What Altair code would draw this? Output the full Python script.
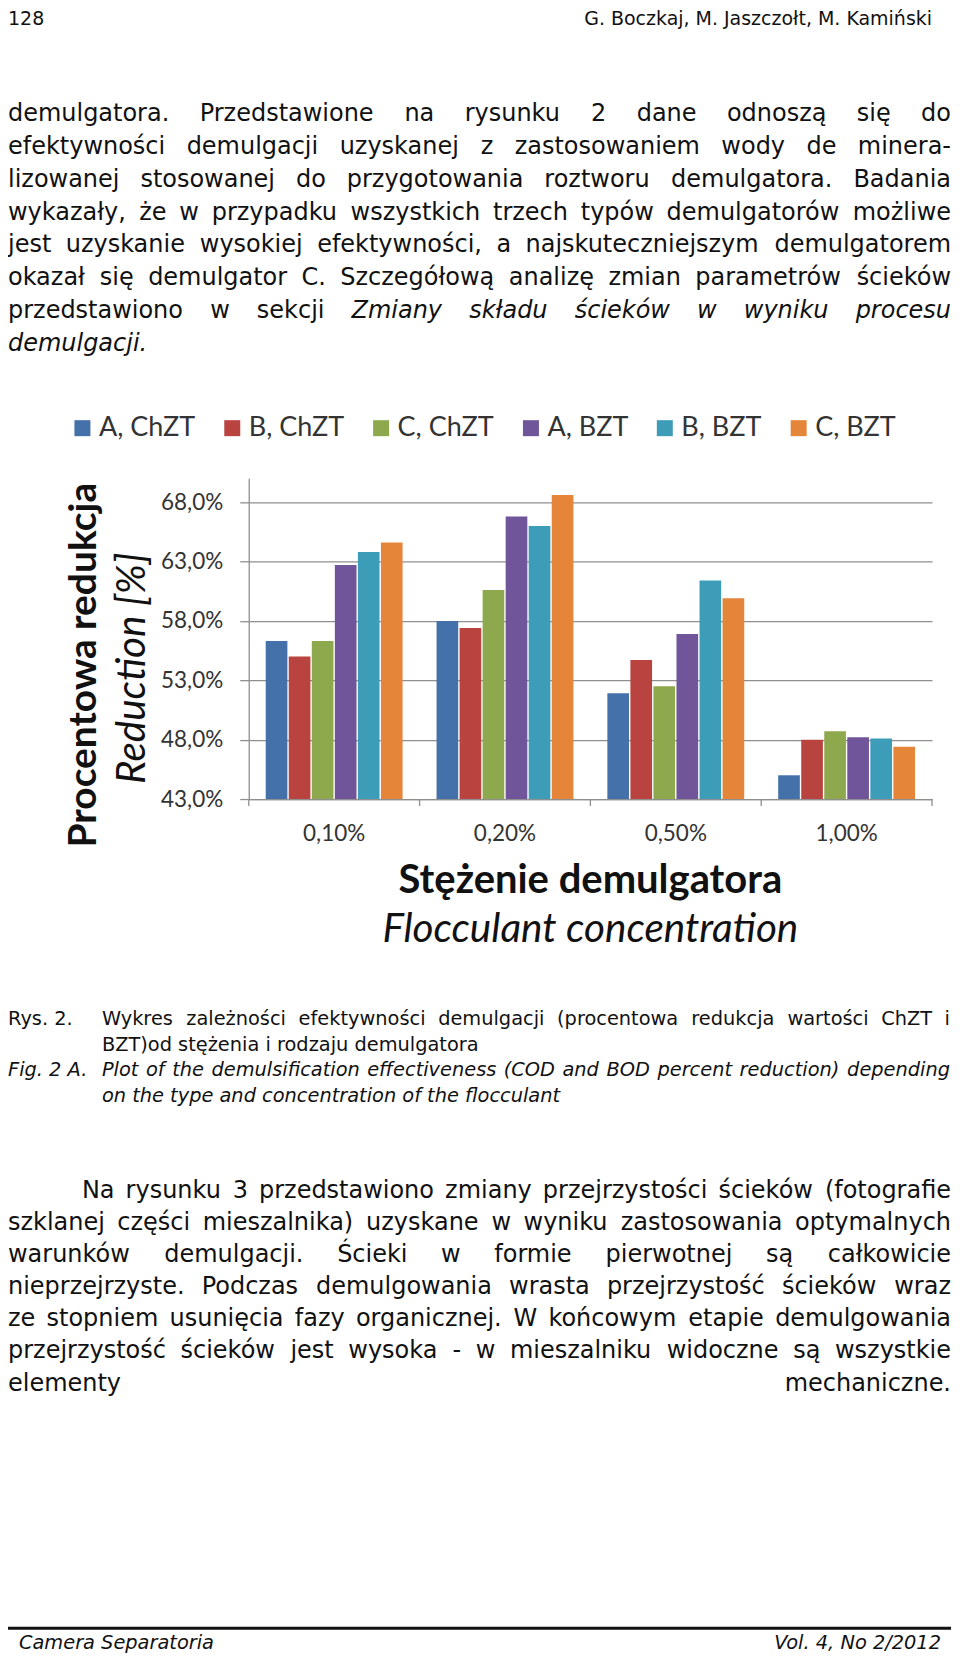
import altair as alt
import pandas as pd

# ---------------- chart data ----------------
concentrations = ["0,10%", "0,20%", "0,50%", "1,00%"]
series = ["A, ChZT", "B, ChZT", "C, ChZT", "A, BZT", "B, BZT", "C, BZT"]
colors = ["#4471AA", "#B8433F", "#8EA94D", "#71559A", "#3D9DB9", "#E5853A"]
val_A_ChZT = [56.3, 58.0, 51.9, 45.0]
val_B_ChZT = [55.0, 57.4, 54.7, 48.0]
val_C_ChZT = [56.3, 60.6, 52.5, 48.7]
val_A_BZT = [62.7, 66.8, 56.9, 48.2]
val_B_BZT = [63.8, 66.0, 61.4, 48.1]
val_C_BZT = [64.6, 68.6, 59.9, 47.4]
y_ticks = [43, 48, 53, 58, 63, 68]
y_domain = [43, 70]

y_title_pl = "Procentowa redukcja"
y_title_en = "Reduction [%]"
x_title_pl = "Stężenie demulgatora"
x_title_en = "Flocculant concentration"

# ---------------- page text ----------------
header_left = "128"
header_right = "G. Boczkaj, M. Jaszczołt, M. Kamiński"
para1 = [
    "demulgatora. Przedstawione na rysunku 2 dane odnoszą się do",
    "efektywności demulgacji uzyskanej z zastosowaniem wody de minera-",
    "lizowanej stosowanej do przygotowania roztworu demulgatora. Badania",
    "wykazały, że w przypadku wszystkich trzech typów demulgatorów możliwe",
    "jest uzyskanie wysokiej efektywności, a najskuteczniejszym demulgatorem",
    "okazał się demulgator C. Szczegółową analizę zmian parametrów ścieków",
    "przedstawiono w sekcji _Zmiany_ _składu_ _ścieków_ _w_ _wyniku_ _procesu_",
    "_demulgacji._",
]
caption_labels = ["Rys. 2.", "_Fig._ _2_ _A._"]
caption_lines = [
    "Wykres zależności efektywności demulgacji (procentowa redukcja wartości ChZT i",
    "BZT)od stężenia i rodzaju demulgatora",
    "_Plot_ _of_ _the_ _demulsification_ _effectiveness_ _(COD_ _and_ _BOD_ _percent_ _reduction)_ _depending_",
    "_on_ _the_ _type_ _and_ _concentration_ _of_ _the_ _flocculant_",
]
para2 = [
    "Na rysunku 3 przedstawiono zmiany przejrzystości ścieków (fotografie",
    "szklanej części mieszalnika) uzyskane w wyniku zastosowania optymalnych",
    "warunków demulgacji. Ścieki w formie pierwotnej są całkowicie",
    "nieprzejrzyste. Podczas demulgowania wrasta przejrzystość ścieków wraz",
    "ze stopniem usunięcia fazy organicznej. W końcowym etapie demulgowania",
    "przejrzystość ścieków jest wysoka - w mieszalniku widoczne są wszystkie",
    "elementy mechaniczne.",
]
footer_left = "Camera Separatoria"
footer_right = "Vol. 4, No 2/2012"

# ---------------- layout ----------------
PAGE_MARGIN = 8
PX0, PY0 = 249, 478          # plot-area origin on the page
W, H = 684, 321
SVG_W, SVG_H = 945, 1645
PAGE_FONT = "DejaVu Sans"
CHART_FONT = "Lato"


def cx(x):
    return x - PX0


def cy(y):
    return y - PY0


# DejaVu Sans advance widths (em)
DV = {" ": .318, "a": .613, "b": .635, "c": .550, "d": .635, "e": .615, "f": .352,
      "g": .635, "h": .634, "i": .278, "j": .278, "k": .579, "l": .278, "m": .974,
      "n": .634, "o": .612, "p": .635, "q": .635, "r": .411, "s": .521, "t": .392,
      "u": .634, "v": .592, "w": .818, "x": .592, "y": .592, "z": .525,
      "A": .684, "B": .686, "C": .698, "D": .770, "E": .632, "F": .575, "G": .775,
      "H": .752, "I": .295, "J": .295, "K": .656, "L": .557, "M": .863, "N": .748,
      "O": .787, "P": .603, "Q": .787, "R": .695, "S": .635, "T": .611, "U": .732,
      "V": .684, "W": .989, "X": .685, "Y": .611, "Z": .685,
      ".": .318, ",": .318, "-": .361, "(": .390, ")": .390, "%": .950, "/": .337,
      "ł": .290}
for ch in "0123456789":
    DV[ch] = .636
for a, b in zip("ąęóśćńżźŚŻ", "aeoscnzzSZ"):
    DV[a] = DV[b]


def tw(s, fs):
    return sum(DV.get(ch, 0.6) for ch in s) * fs


rows = []


def add_line(text, x0, x1, base, fs, justify):
    words = []
    for w in text.split(" "):
        it = len(w) > 1 and w.startswith("_") and w.endswith("_")
        words.append((w[1:-1] if it else w, it))
    if not justify or len(words) == 1:
        it = all(i for _, i in words)
        rows.append(dict(x=cx(x0), y=cy(base), text=" ".join(w for w, _ in words),
                         fs=fs, italic=it, anchor="left"))
        return
    widths = [tw(w, fs) for w, _ in words]
    gap = (x1 - x0 - sum(widths)) / (len(words) - 1)
    x = x0
    for k, ((w, it), wd) in enumerate(zip(words, widths)):
        if k == len(words) - 1:
            rows.append(dict(x=cx(x1), y=cy(base), text=w, fs=fs, italic=it, anchor="right"))
        else:
            rows.append(dict(x=cx(x), y=cy(base), text=w, fs=fs, italic=it, anchor="left"))
        x += wd + gap


BODY_FS, CAP_FS, HDR_FS = 24, 19.4, 19
L, R = 8, 952
for k, line in enumerate(para1):
    add_line(line, L, R, 120.5 + 32.8 * k, BODY_FS, k < len(para1) - 1)

cap_base = [1025, 1051, 1076.5, 1102]
add_line(caption_labels[0], L, 100, cap_base[0], CAP_FS, False)
add_line(caption_labels[1], L, 100, cap_base[2], CAP_FS, False)
add_line(caption_lines[0], 102, 951, cap_base[0], CAP_FS, True)
add_line(caption_lines[1], 102, 951, cap_base[1], CAP_FS, False)
add_line(caption_lines[2], 102, 951, cap_base[2], CAP_FS, True)
add_line(caption_lines[3], 102, 951, cap_base[3], CAP_FS, False)

for k, line in enumerate(para2):
    add_line(line, 82 if k == 0 else L, R, 1198 + 32.2 * k, BODY_FS, True)

rows.append(dict(x=cx(8), y=cy(24), text=header_left, fs=HDR_FS, italic=False, anchor="left"))
rows.append(dict(x=cx(933), y=cy(24), text=header_right, fs=HDR_FS, italic=False, anchor="right"))
rows.append(dict(x=cx(19), y=cy(1650), text=footer_left, fs=CAP_FS, italic=True, anchor="left"))
rows.append(dict(x=cx(942), y=cy(1650), text=footer_right, fs=CAP_FS, italic=True, anchor="right"))

text_df = pd.DataFrame(rows)

# ---------------- bars ----------------
vals = [val_A_ChZT, val_B_ChZT, val_C_ChZT, val_A_BZT, val_B_BZT, val_C_BZT]
bar_df = pd.DataFrame([
    dict(conc=c, series=s, value=v[i])
    for s, v in zip(series, vals) for i, c in enumerate(concentrations)
])

x_scale = alt.Scale(type="band", paddingInner=0, paddingOuter=0)
GRID = "#8f8f8f"
LABEL = "#333333"

bars = alt.Chart(bar_df).mark_bar().encode(
    x=alt.X("conc:N", sort=concentrations, scale=x_scale, title=None,
            axis=alt.Axis(labelAngle=0, ticks=False, labelPadding=24, labelFont=CHART_FONT,
                          labelFontSize=22.5, labelColor=LABEL, domainColor=GRID,
                          domainWidth=1.3, grid=False)),
    xOffset=alt.XOffset("series:N", sort=series,
                        scale=alt.Scale(paddingInner=0.06, paddingOuter=0.737)),
    y=alt.Y("value:Q", scale=alt.Scale(domain=y_domain, nice=False, zero=False), title=None,
            axis=alt.Axis(values=y_ticks,
                          labelExpr="replace(format(datum.value, '.1f'), '.', ',') + '%'",
                          tickSize=9, tickColor=GRID, tickWidth=1.3, labelPadding=17,
                          labelFont=CHART_FONT, labelFontSize=22.5, labelColor=LABEL,
                          grid=True, gridColor=GRID, gridWidth=1.3,
                          domainColor=GRID, domainWidth=1.3)),
    y2=alt.datum(43),
    color=alt.Color("series:N", sort=series, scale=alt.Scale(domain=series, range=colors),
                    legend=alt.Legend(orient="none", legendX=-180, legendY=-64,
                                      direction="horizontal", title=None,
                                      symbolType="square", symbolSize=256,
                                      symbolStrokeWidth=0, labelFont=CHART_FONT,
                                      labelFontSize=27, labelColor=LABEL, labelOffset=3,
                                      columnPadding=23, padding=0, labelLimit=400)),
)

cat_df = pd.DataFrame({"conc": concentrations})
xticks = alt.Chart(cat_df).mark_rule(color=GRID, strokeWidth=1.3).encode(
    x=alt.X("conc:N", sort=concentrations, scale=x_scale, bandPosition=0),
    y=alt.value(H), y2=alt.value(H + 7),
)
xtick_end = alt.Chart().mark_rule(color=GRID, strokeWidth=1.3).encode(
    x=alt.value(W), y=alt.value(H), y2=alt.value(H + 7))

titles_df = pd.DataFrame([
    dict(x=cx(84), y=cy(665), text=y_title_pl, kind="ybold"),
    dict(x=cx(133), y=cy(668), text=y_title_en, kind="yit"),
    dict(x=W / 2, y=cy(893), text=x_title_pl, kind="xbold"),
    dict(x=W / 2, y=cy(942), text=x_title_en, kind="xit"),
])


def title_layer(kind, **kw):
    return alt.Chart(titles_df).transform_filter(alt.datum.kind == kind).mark_text(
        font=CHART_FONT, color="#111111", align="center", **kw).encode(
        x=alt.X("x:Q", scale=None, axis=None),
        y=alt.Y("y:Q", scale=None, axis=None),
        text="text:N")


t1 = title_layer("ybold", fontSize=39, fontWeight="bold", angle=270, baseline="middle")
t2 = title_layer("yit", fontSize=40.5, fontStyle="italic", angle=270, baseline="middle")
t3 = title_layer("xbold", fontSize=40, fontWeight="bold", baseline="alphabetic")
t4 = title_layer("xit", fontSize=40.5, fontStyle="italic", baseline="alphabetic")

text_layers = []
for (fs, it, al), sub in text_df.groupby(["fs", "italic", "anchor"]):
    kw = dict(fontStyle="italic") if bool(it) else {}
    text_layers.append(
        alt.Chart(sub.reset_index(drop=True)[["x", "y", "text"]]).mark_text(
            font=PAGE_FONT, fontSize=float(fs), align=str(al),
            baseline="alphabetic", color="#111111", **kw).encode(
            x=alt.X("x:Q", scale=None, axis=None),
            y=alt.Y("y:Q", scale=None, axis=None),
            text="text:N"))

footer_rule = alt.Chart().mark_rule(color="#111111", strokeWidth=3).encode(
    x=alt.value(cx(0)), x2=alt.value(cx(952)), y=alt.value(cy(1629)))

chart = alt.layer(bars, xticks, xtick_end, t1, t2, t3, t4, footer_rule, *text_layers).properties(
    width=W, height=H,
    autosize=alt.AutoSizeParams(type="none"),
    padding={"left": PX0 - PAGE_MARGIN, "top": PY0 - PAGE_MARGIN,
             "right": SVG_W - (PX0 - PAGE_MARGIN) - W,
             "bottom": SVG_H - (PY0 - PAGE_MARGIN) - H},
    background="white",
).configure_view(stroke=None)

chart.save("out.html", embed_options={"renderer": "svg", "actions": False})
